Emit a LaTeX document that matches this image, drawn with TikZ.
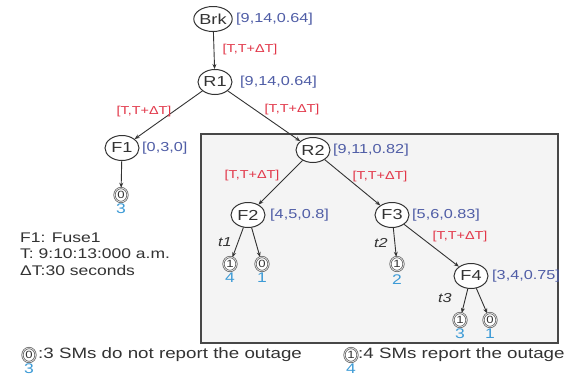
\documentclass[tikz,border=0pt]{standalone}
\usepackage{fontspec}
\setmainfont{Liberation Sans}[FakeStretch=1.25]
\usetikzlibrary{shapes.geometric,arrows.meta}
\definecolor{ink}{HTML}{333333}
\definecolor{lblue}{HTML}{4F5DA6}
\definecolor{lred}{HTML}{E2384A}
\definecolor{cnt}{HTML}{3D9BD6}
\definecolor{boxfill}{HTML}{F4F4F4}
\begin{document}
\begin{tikzpicture}[x=1pt,y=-1pt,
  bignode/.style={ellipse, draw=ink, line width=1pt, fill=white, minimum width=34pt, minimum height=25pt, inner sep=0pt, font=\fontsize{14.5}{16}\selectfont, text=ink},
  smnode/.style={ellipse, draw=ink!85, double=gray!30, double distance=0.9pt, line width=0.6pt, fill=white, minimum width=13pt, minimum height=14pt, inner sep=0pt, font=\fontsize{10.5}{11}\selectfont, text=ink},
  cntlbl/.style={text=cnt, anchor=north, font=\fontsize{14}{15}\selectfont, inner sep=0pt},
  vlbl/.style={text=lblue, anchor=west, inner sep=0pt, font=\fontsize{13}{14}\selectfont},
  tlbl/.style={text=lred, inner sep=0pt, font=\fontsize{11.5}{13}\selectfont},
  ilbl/.style={text=ink, inner sep=0pt, font=\fontsize{13}{14}\selectfont\itshape},
  conn/.style={draw=ink, line width=0.9pt, -{Stealth[length=5pt,width=4pt]}},
  legtext/.style={text=ink, anchor=west, inner sep=0pt, font=\fontsize{15}{17}\selectfont},
]
\useasboundingbox (0,0) rectangle (566,381);
\fill[white] (0,0) rectangle (566,381);
% shaded box
\draw[fill=boxfill, draw=ink!90, line width=1.1pt] (201,134) rectangle (558,343);

% main nodes
\node[bignode] (brk) at (213,19) {Brk};
\node[bignode] (r1) at (215,82) {R1};
\node[bignode] (f1) at (122,148) {F1};
\node[bignode] (r2) at (313,150) {R2};
\node[bignode] (f2) at (248,215) {F2};
\node[bignode] (f3) at (392,215) {F3};
\node[bignode] (f4) at (471,276) {F4};

% value labels
\node[vlbl] (vbrk) at (236,19) {[9,14,0.64]};
\node[vlbl] (vr1) at (240,82) {[9,14,0.64]};
\node[vlbl] (vf1) at (142,148) {[0,3,0]};
\node[vlbl] (vr2) at (333,150) {[9,11,0.82]};
\node[vlbl] (vf2) at (270,215) {[4,5,0.8]};
\node[vlbl] (vf3) at (412,215) {[5,6,0.83]};
\node[vlbl] (vf4) at (492,276) {[3,4,0.75]};

% small SM nodes
\node[smnode] (s1) at (121,195) {0};
\node[smnode] (a) at (230,264) {1};
\node[smnode] (b) at (262,264) {0};
\node[smnode] (c) at (397,264) {1};
\node[smnode] (d) at (460,320) {1};
\node[smnode] (e) at (490,320) {0};

% counts
\node[cntlbl] (cs1) at ([yshift=-1pt]s1.south) {3};
\node[cntlbl] (ca) at ([yshift=-1pt]a.south) {4};
\node[cntlbl] (cb) at ([yshift=-1pt]b.south) {1};
\node[cntlbl] (cc) at ([yshift=-3pt]c.south) {2};
\node[cntlbl] (cd) at ([yshift=-1pt]d.south) {3};
\node[cntlbl] (ce) at ([yshift=-1pt]e.south) {1};

% connectors
\draw[conn] (brk) -- (r1);
\draw[conn] (r1) -- (f1);
\draw[conn] (r1) -- (r2);
\draw[conn] (r2) -- (f2);
\draw[conn] (r2) -- (f3);
\draw[conn] (f3) -- (f4);
\draw[conn] (f1) -- (s1);
\draw[conn] (f2) -- (a);
\draw[conn] (f2) -- (b);
\draw[conn] (f3) -- (c);
\draw[conn] (f4) -- (d);
\draw[conn] (f4) -- (e);

% time window labels
\node[tlbl] (t0) at (250,50) {[T,T+ΔT]};
\node[tlbl] (t1l) at (144,112) {[T,T+ΔT]};
\node[tlbl] (t1r) at (292,110) {[T,T+ΔT]};
\node[tlbl] (t2l) at (252,176) {[T,T+ΔT]};
\node[tlbl] (t2r) at (380,177) {[T,T+ΔT]};
\node[tlbl] (t3) at (460,237) {[T,T+ΔT]};

% t labels
\node[ilbl] (it1) at (225,242) {t1};
\node[ilbl] (it2) at (381,243) {t2};
\node[ilbl] (it3) at (445,298) {t3};

% text block
\node[text=ink, anchor=west, align=left, inner sep=0pt, font=\fontsize{14}{16.5}\selectfont] (info) at (20,254) {F1: Fuse1\\T: 9:10:13:000 a.m.\\ΔT:30 seconds};

% legend
\node[smnode] (lg0) at (29,355) {0};
\node[cntlbl] (lg0c) at ([yshift=-1pt]lg0.south) {3};
\node[legtext] (lg0t) at (38,355) {:3 SMs do not report the outage};
\node[smnode] (lg1) at (351,355) {1};
\node[cntlbl] (lg1c) at ([yshift=-1pt]lg1.south) {4};
\node[legtext] (lg1t) at (358,355) {:4 SMs report the outage};
\end{tikzpicture}
\end{document}
